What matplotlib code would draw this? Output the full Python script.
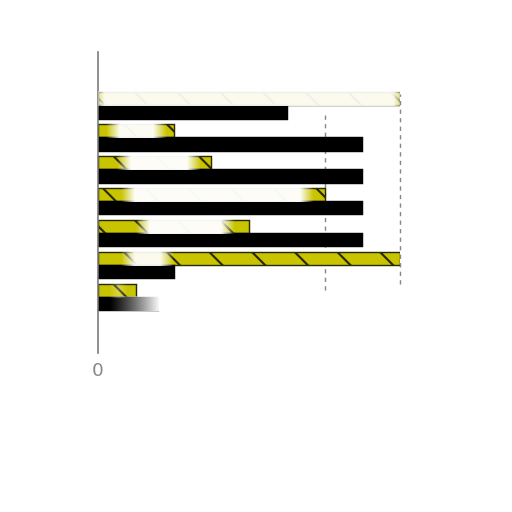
import numpy as np
import matplotlib
matplotlib.use("Agg")
import matplotlib.pyplot as plt

# ---- data ----
categories = ["A", "B", "C", "D", "E", "F", "G"]
yellow_vals = [4.0, 1.0, 1.5, 3.0, 2.0, 4.0, 0.5]
black_vals = [2.5, 3.5, 3.5, 3.5, 3.5, 1.0, 0.8]
x_ticks = [0]
x_tick_labels = ["0"]

# ---- style: white "glare" overlays (x0, x1, alpha) per yellow bar ----
yellow_glare = [(-0.1, 4.1, 0.93), (0.1, 0.9, 0.95), (0.25, 1.35, 0.97),
                (0.3, 2.85, 0.97), (0.5, 1.8, 0.97), (0.3, 1.0, 0.93),
                (0.15, 0.4, 0.4)]

plt.rcParams["hatch.linewidth"] = 0.6
plt.rcParams["hatch.color"] = "#1a1a00"

fig = plt.figure(figsize=(2, 2), dpi=256)
ax = fig.add_axes([98 / 512, 1 - 353 / 512, 302 / 512, 301 / 512])

y = np.arange(len(categories))
h = 0.42
ax.barh(y - h / 2, yellow_vals, height=h, color="#c9c400",
        edgecolor="#2a2a00", linewidth=0.4, hatch="\\\\", zorder=2)
ax.barh(y + h / 2, black_vals, height=h, color="black",
        edgecolor="black", linewidth=0.4, zorder=2)


def glare(yc, x0, x1, a, soft=0.18, rising_only=False):
    n = 400
    xs = np.linspace(x0, x1, n)
    if rising_only:
        prof = np.clip((xs - x0) / (x1 - x0), 0, 1) ** 1.2
    else:
        prof = np.minimum(np.clip((xs - x0) / soft, 0, 1),
                          np.clip((x1 - xs) / soft, 0, 1))
    img = np.ones((1, n, 4))
    img[0, :, 3] = prof * a
    ax.imshow(img, extent=(x0, x1, yc + h / 2 + 0.02, yc - h / 2 - 0.02),
              aspect="auto", interpolation="bilinear", zorder=3)


for i, (x0, x1, a) in enumerate(yellow_glare):
    glare(y[i] - h / 2, x0, x1, a)
# fade of the last black bar
glare(y[-1] + h / 2, 0.15, black_vals[-1] + 0.02, 1.0, rising_only=True)

for gx, y0, y1 in [(3, 0.21, 0.80), (4, 0.23, 0.86)]:
    ax.axvline(gx, ymin=y0, ymax=y1, color="#888888", lw=0.4,
               ls=(0, (3, 3)), zorder=1, clip_on=False)

ax.set_xlim(0, 4.0)
ax.set_ylim(7.75, -1.66)
ax.set_yticks([])
ax.set_xticks(x_ticks)
ax.set_xticklabels(x_tick_labels, fontsize=5.2, color="#888888")
ax.tick_params(axis="x", length=0, pad=2.5)
for s in ["top", "right", "bottom"]:
    ax.spines[s].set_visible(False)
ax.spines["left"].set_color("#777777")
ax.spines["left"].set_linewidth(0.45)
ax.set_facecolor("white")

fig.savefig("out.png", dpi=256, facecolor="white")
